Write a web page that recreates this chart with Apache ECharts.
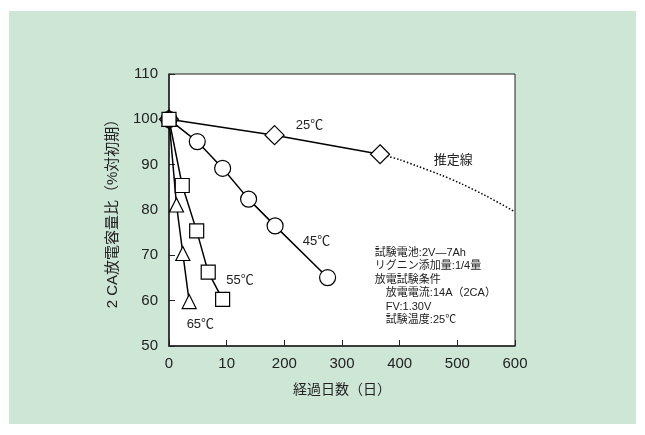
<!DOCTYPE html>
<html><head><meta charset="utf-8">
<script src="https://cdn.jsdelivr.net/npm/echarts@6/dist/echarts.min.js"></script>
<style>html,body{margin:0;padding:0;background:#fff}#c{width:645px;height:435px}</style>
</head><body><div id="c"></div>
<script>
// ---- data ----
const xTickLabels = ['0','10','200','300','400','500','600'];
const s25 = [[0,100],[183,96.5],[366,92.3]];
const s25est = [[366,92.3],[400,91.1],[430,89.7],[470,87.8],[505,85.9],[550,83.1],[600,79.6]];
const s45 = [[0,100],[49,95.1],[93,89.2],[138,82.4],[184,76.5],[275,65.1]];
const s55 = [[0,100],[23,85.4],[48,75.4],[68,66.3],[93,60.3]];
const s65 = [[0,100],[13,81.1],[24,70.4],[35,59.8]];
const seriesLabels = [
  {pos:[243.6,98.75], text:'25℃'},
  {pos:[255.6,73.0], text:'45℃'},
  {pos:[123,64.4], text:'55℃'},
  {pos:[54.4,54.8], text:'65℃'},
  {pos:[493,91.0], text:'推定線'}
];
const noteAnchor = [357,70.6];
const noteLines = ['試験電池:2V―7Ah','リグニン添加量:1/4量','放電試験条件','　放電電流:14A（2CA）','　FV:1.30V','　試験温度:25℃'];
const xName = '経過日数（日）';
const yName = '2 CA放電容量比（%対初期）';

const FONT = '"Liberation Sans", Arial, "Noto Sans CJK JP", sans-serif';
const chart = echarts.init(document.getElementById('c'), null, {renderer:'canvas'});
const markerStyle = {color:'#fff', borderColor:'#000', borderWidth:1.2};
function lineSeries(name, data, symbol, size){
  return {name, type:'line', data, symbol, symbolSize:size, showSymbol:true,
    lineStyle:{color:'#000', width:1.5}, itemStyle:markerStyle, z:3, animation:false};
}
chart.setOption({
  backgroundColor:'#fff',
  animation:false,
  grid:{left:169, top:74, width:346, height:272, show:true, backgroundColor:'#fff', borderColor:'#222', borderWidth:1},
  xAxis:{type:'value', min:0, max:600, interval:100,
    name:xName, nameLocation:'middle', nameGap:37,
    nameTextStyle:{fontSize:14, color:'#222', fontFamily:FONT},
    axisLine:{show:true, lineStyle:{color:'#222', width:1.5}},
    axisTick:{show:true, inside:true, length:6, lineStyle:{color:'#222', width:1}},
    axisLabel:{fontSize:15, color:'#222', fontFamily:FONT, margin:10, formatter:v=>xTickLabels[Math.round(v/100)]},
    splitLine:{show:false}},
  yAxis:{type:'value', min:50, max:110, interval:10,
    name:yName, nameLocation:'middle', nameGap:49, nameRotate:90,
    nameTextStyle:{fontSize:15, color:'#222', fontFamily:FONT},
    axisLine:{show:true, lineStyle:{color:'#222', width:1.5}},
    axisTick:{show:true, inside:true, length:6, lineStyle:{color:'#222', width:1}},
    axisLabel:{fontSize:15, color:'#222', fontFamily:FONT, margin:11},
    splitLine:{show:false}},
  series:[
    lineSeries('25℃', s25, 'diamond', [19,19]),
    {name:'推定線', type:'line', data:s25est, symbol:'none', smooth:0.3,
      lineStyle:{color:'#000', width:1.5, type:[1.5,2]}, z:2},
    lineSeries('45℃', s45, 'circle', 16),
    lineSeries('65℃', s65, 'triangle', [14,14]),
    lineSeries('55℃', s55, 'rect', 14)
  ]
});
const gfx = [{type:'rect', z:-100, shape:{x:9, y:11, width:627, height:413}, style:{fill:'#cde6d6'}, silent:true}];
seriesLabels.forEach(l=>{
  const p = chart.convertToPixel({gridIndex:0}, l.pos);
  gfx.push({type:'text', x:p[0], y:p[1], z:10, style:{text:l.text, font:'13px '+FONT, fill:'#222', align:'center', verticalAlign:'middle'}});
});
const np = chart.convertToPixel({gridIndex:0}, noteAnchor);
noteLines.forEach((t,i)=>{
  gfx.push({type:'text', x:np[0], y:np[1]+i*13.5, z:10, style:{text:t, font:'11px '+FONT, fill:'#222', align:'left', verticalAlign:'middle'}});
});
chart.setOption({graphic:gfx});
</script></body></html>
